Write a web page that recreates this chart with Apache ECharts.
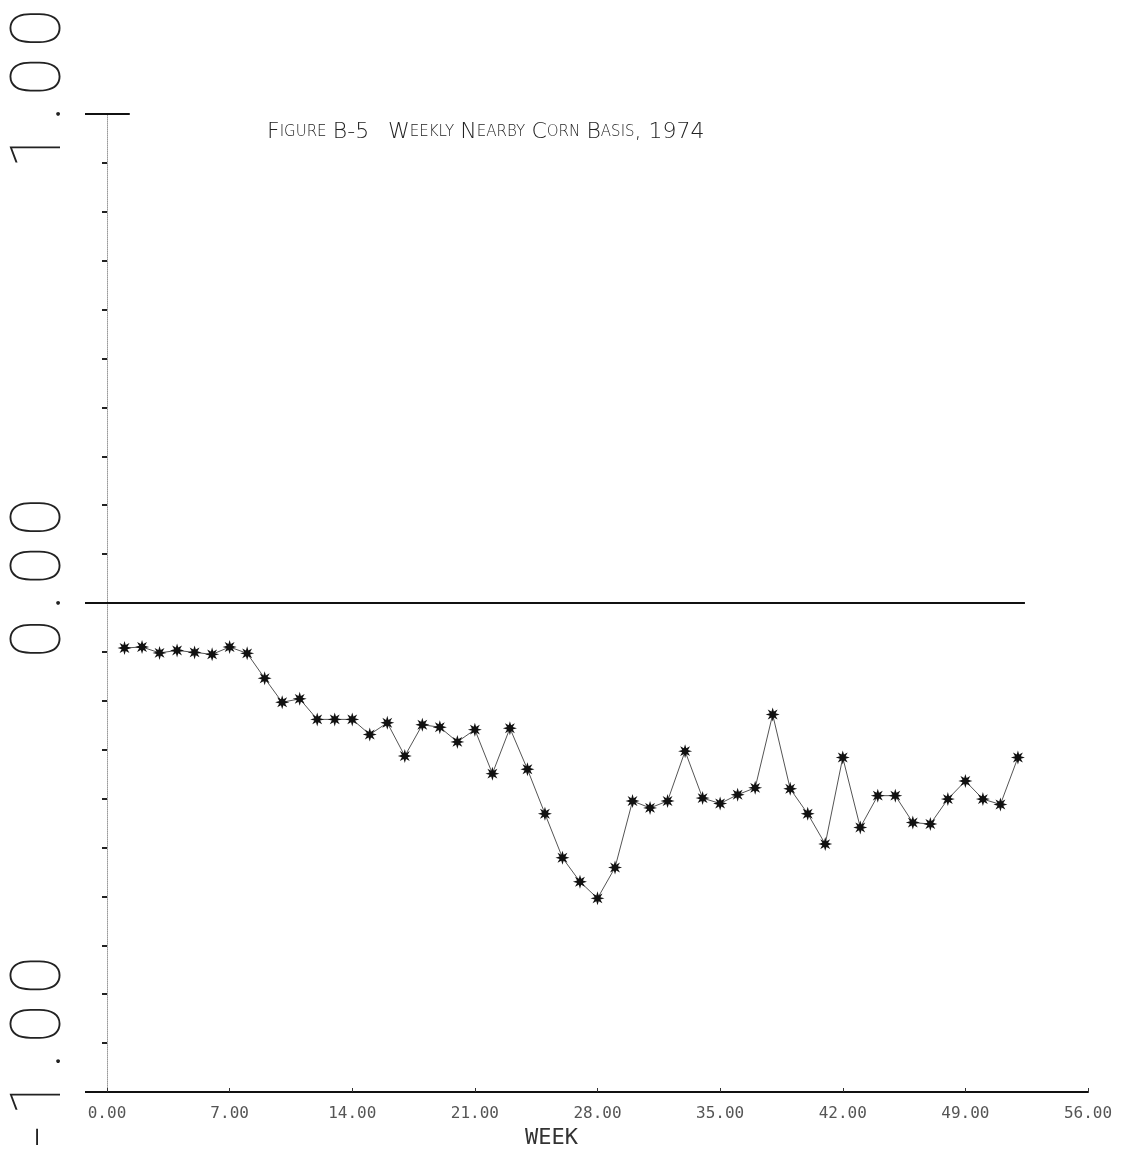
<!DOCTYPE html>
<html><head><meta charset="utf-8">
<script src="https://cdn.jsdelivr.net/npm/echarts@6/dist/echarts.min.js"></script>
<style>html,body{margin:0;padding:0;background:#fff}#c{width:1134px;height:1150px}</style>
</head><body><div id="c"></div>
<script>
// ---- data ----
const weeks = [1,2,3,4,5,6,7,8,9,10,11,12,13,14,15,16,17,18,19,20,21,22,23,24,25,26,
  27,28,29,30,31,32,33,34,35,36,37,38,39,40,41,42,43,44,45,46,47,48,49,50,51,52];
const basis = [-0.092,-0.090,-0.102,-0.097,-0.101,-0.105,-0.090,-0.103,-0.154,-0.203,
  -0.196,-0.238,-0.238,-0.238,-0.269,-0.245,-0.313,-0.249,-0.254,-0.284,
  -0.259,-0.349,-0.256,-0.340,-0.431,-0.521,-0.570,-0.604,-0.541,-0.405,
  -0.419,-0.405,-0.303,-0.399,-0.410,-0.392,-0.378,-0.228,-0.380,-0.431,
  -0.493,-0.316,-0.459,-0.394,-0.394,-0.449,-0.452,-0.401,-0.364,-0.401,
  -0.412,-0.316];
const yLabelValues = [-1, 0, 1];
const refSegments = [
  [[0, 1], [1.3, 1]],
  [[0, 0], [52.4, 0]]
];

function starPath(n, rIn) {
  let d = '';
  for (let i = 0; i < 2 * n; i++) {
    const r = i % 2 ? rIn : 1;
    const a = Math.PI * i / n - Math.PI / 2;
    d += (i ? 'L' : 'M') + (1 + r * Math.cos(a)).toFixed(3) + ' ' + (1 + r * Math.sin(a)).toFixed(3);
  }
  return 'path://' + d + 'Z';
}

const chart = echarts.init(document.getElementById('c'), null, {renderer: 'canvas'});
const seriesPts = weeks.map((w, i) => [w, basis[i]]);

const option = {
  backgroundColor: '#fff',
  animation: false,
  title: {
    left: 262, top: 116,
    text: '{b|F}{s|IGURE} {b|B-5}   {b|W}{s|EEKLY} {b|N}{s|EARBY} {b|C}{s|ORN} {b|B}{s|ASIS}{b|, 1974}',
    textStyle: {
      fontFamily: 'DejaVu Sans', color: '#222',
      rich: {
        b: {fontFamily: 'DejaVu Sans', fontSize: 22, color: '#222', fontWeight: 300},
        s: {fontFamily: 'DejaVu Sans', fontSize: 15, color: '#222', fontWeight: 300}
      }
    }
  },
  grid: {left: 107, right: 46, top: 114, bottom: 58, outerBoundsMode: 'none'},
  xAxis: {
    type: 'value', min: 0, max: 56, interval: 7,
    axisLine: {onZero: false, lineStyle: {color: '#111', width: 2}},
    axisTick: {inside: true, length: 4, lineStyle: {color: '#333', width: 1}},
    splitLine: {show: false},
    axisLabel: {formatter: v => v.toFixed(2), fontFamily: 'DejaVu Sans Mono', fontSize: 16, color: '#555', margin: 14},
    name: 'WEEK', nameLocation: 'middle', nameGap: 33,
    nameTextStyle: {fontFamily: 'DejaVu Sans Mono', fontSize: 22, color: '#333', padding: [0, 92, 0, 0]}
  },
  yAxis: [{
    type: 'value', min: -1, max: 1, interval: 0.1,
    axisLine: {show: true, onZero: false, lineStyle: {color: '#999', width: 1, type: 'dotted'}},
    axisTick: {show: true, inside: false, length: 5, lineStyle: {color: '#222', width: 2}},
    splitLine: {show: false},
    axisLabel: {
      rotate: 90, margin: 65, align: 'left', verticalAlign: 'middle',
      padding: [0, 0, 0, -60],
      formatter: v => yLabelValues.some(t => Math.abs(t - v) < 1e-6)
        ? v.toFixed(2).split('').map(c => '{d|' + c + '}').join('') : '',
      rich: {
        d: {fontFamily: 'Roboto', fontWeight: 100, fontSize: 70, color: '#222', padding: [0, 5, 0, 5]}
      }
    }
  }, {
    type: 'value', min: -1, max: 1, position: 'left',
    axisLine: {show: false, onZero: false},
    axisTick: {show: true, inside: false, length: 22, customValues: yLabelValues, lineStyle: {color: '#111', width: 2}},
    axisLabel: {show: false},
    splitLine: {show: false}
  }],
  series: [
    ...refSegments.map(seg => ({
      type: 'line', data: seg, symbol: 'none', silent: true, z: 3,
      lineStyle: {color: '#111', width: 2}
    })),
    {
      type: 'line', data: seriesPts, z: 5,
      symbol: starPath(8, 0.45), symbolSize: 14,
      itemStyle: {color: '#111'},
      lineStyle: {color: '#555', width: 1}
    }
  ]
};
chart.setOption(option);
</script>
</body></html>
